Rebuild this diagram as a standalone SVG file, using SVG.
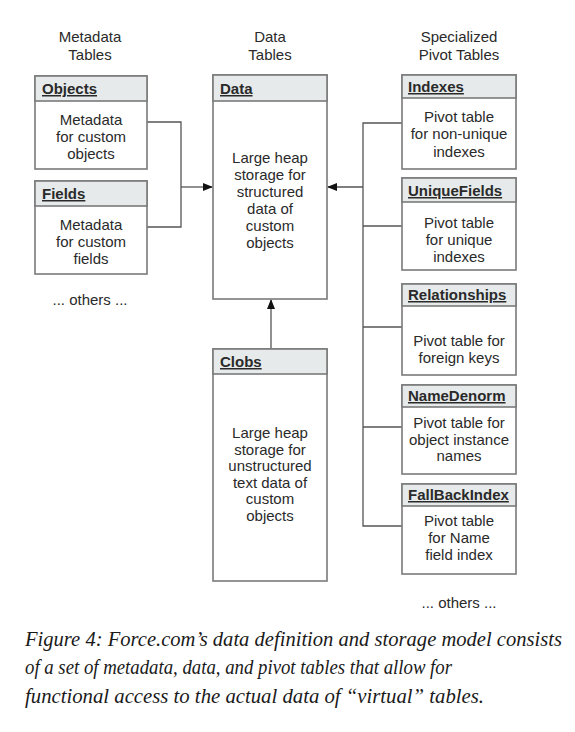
<svg xmlns="http://www.w3.org/2000/svg" width="575" height="732" viewBox="0 0 575 732">
<style>
.box{fill:#fff;stroke:#7a7a7a;stroke-width:1.6}
.hdr{fill:#e6eaea;stroke:#7a7a7a;stroke-width:1.6}
.t{font-family:"Liberation Sans",Arial,sans-serif;font-size:15px;fill:#2a2a2a;text-anchor:middle}
.h{font-family:"Liberation Sans",Arial,sans-serif;font-size:15px;font-weight:bold;fill:#2a2a2a;text-decoration:underline}
.c{font-family:"Liberation Serif","Times New Roman",serif;font-style:italic;font-size:20px;fill:#1a1a1a}
.ln{fill:none;stroke:#555;stroke-width:1.3}
</style>
<defs>
<marker id="arr" markerWidth="10" markerHeight="8" refX="9" refY="4" orient="auto" markerUnits="userSpaceOnUse">
<path d="M0,0 L10,4 L0,8 Z" fill="#111"/>
</marker>
</defs>
<g id="headings">
<text class="t" x="90" y="42">Metadata</text>
<text class="t" x="90" y="60">Tables</text>
<text class="t" x="270" y="42">Data</text>
<text class="t" x="270" y="60">Tables</text>
<text class="t" x="459" y="42">Specialized</text>
<text class="t" x="459" y="60">Pivot Tables</text>
</g>
<g id="connectors">
<path class="ln" d="M147,122 H181 V227 H147"/>
<path class="ln" d="M181,187 H212" marker-end="url(#arr)"/>
<path class="ln" d="M402,123 H363 V526 H402 M363,226 H402 M363,327 H402 M363,427 H402"/>
<path class="ln" d="M363,187 H328" marker-end="url(#arr)"/>
<path class="ln" d="M271,349 V300" marker-end="url(#arr)"/>
</g>
<g id="objects">
<rect class="box" x="35" y="76" width="112" height="93"/>
<rect class="hdr" x="35" y="76" width="112" height="25"/>
<text class="h" x="42" y="94">Objects</text>
<text class="t" x="91" y="125">Metadata</text>
<text class="t" x="91" y="142">for custom</text>
<text class="t" x="91" y="159">objects</text>
</g>
<g id="fields">
<rect class="box" x="35" y="181" width="112" height="93"/>
<rect class="hdr" x="35" y="181" width="112" height="25"/>
<text class="h" x="42" y="199">Fields</text>
<text class="t" x="91" y="230">Metadata</text>
<text class="t" x="91" y="247">for custom</text>
<text class="t" x="91" y="264">fields</text>
</g>
<text class="t" x="90" y="305">... others ...</text>
<g id="data">
<rect class="box" x="213" y="75" width="114" height="224"/>
<rect class="hdr" x="213" y="75" width="114" height="26"/>
<text class="h" x="220" y="94">Data</text>
<text class="t" x="270" y="163">Large heap</text>
<text class="t" x="270" y="180">storage for</text>
<text class="t" x="270" y="197">structured</text>
<text class="t" x="270" y="214">data of</text>
<text class="t" x="270" y="231">custom</text>
<text class="t" x="270" y="248">objects</text>
</g>
<g id="clobs">
<rect class="box" x="213" y="349" width="114" height="232"/>
<rect class="hdr" x="213" y="349" width="114" height="25"/>
<text class="h" x="220" y="367">Clobs</text>
<text class="t" x="270" y="438">Large heap</text>
<text class="t" x="270" y="455">storage for</text>
<text class="t" x="270" y="471">unstructured</text>
<text class="t" x="270" y="488">text data of</text>
<text class="t" x="270" y="504">custom</text>
<text class="t" x="270" y="521">objects</text>
</g>
<g id="indexes">
<rect class="box" x="402" y="75" width="114" height="94"/>
<rect class="hdr" x="402" y="75" width="114" height="23"/>
<text class="h" x="408" y="92">Indexes</text>
<text class="t" x="459" y="122">Pivot table</text>
<text class="t" x="459" y="139">for non-unique</text>
<text class="t" x="459" y="157">indexes</text>
</g>
<g id="uniquefields">
<rect class="box" x="402" y="178" width="114" height="92"/>
<rect class="hdr" x="402" y="178" width="114" height="24"/>
<text class="h" x="408" y="196">UniqueFields</text>
<text class="t" x="459" y="228">Pivot table</text>
<text class="t" x="459" y="245">for unique</text>
<text class="t" x="459" y="262">indexes</text>
</g>
<g id="relationships">
<rect class="box" x="402" y="284" width="114" height="91"/>
<rect class="hdr" x="402" y="284" width="114" height="22"/>
<text class="h" x="408" y="300">Relationships</text>
<text class="t" x="459" y="346">Pivot table for</text>
<text class="t" x="459" y="363">foreign keys</text>
</g>
<g id="namedenorm">
<rect class="box" x="402" y="385" width="114" height="89"/>
<rect class="hdr" x="402" y="385" width="114" height="22"/>
<text class="h" x="408" y="401">NameDenorm</text>
<text class="t" x="459" y="428">Pivot table for</text>
<text class="t" x="459" y="445">object instance</text>
<text class="t" x="459" y="461">names</text>
</g>
<g id="fallbackindex">
<rect class="box" x="402" y="484" width="114" height="90"/>
<rect class="hdr" x="402" y="484" width="114" height="22"/>
<text class="h" x="408" y="500">FallBackIndex</text>
<text class="t" x="459" y="526">Pivot table</text>
<text class="t" x="459" y="543">for Name</text>
<text class="t" x="459" y="560">field index</text>
</g>
<text class="t" x="459" y="608">... others ...</text>
<g id="caption">
<text class="c" x="25" y="646" textLength="537" lengthAdjust="spacingAndGlyphs">Figure 4: Force.com’s data definition and storage model consists</text>
<text class="c" x="25" y="674" textLength="427" lengthAdjust="spacingAndGlyphs">of a set of metadata, data, and pivot tables that allow for</text>
<text class="c" x="25" y="703" textLength="459" lengthAdjust="spacingAndGlyphs">functional access to the actual data of “virtual” tables.</text>
</g>
</svg>
